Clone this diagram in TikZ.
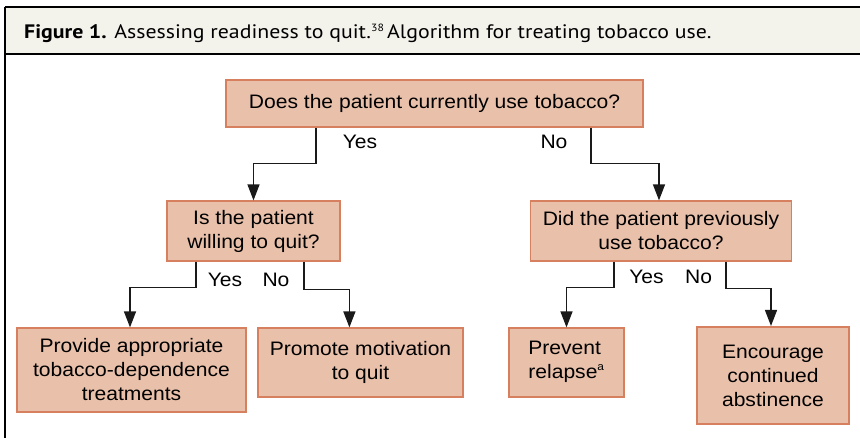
\documentclass[tikz,border=0pt]{standalone}
\usepackage{fontspec}
\setmainfont{Liberation Sans}[FakeStretch=1.08]
\newfontfamily\capfont{PT Sans}[FakeStretch=1.12]
\usetikzlibrary{arrows.meta}
\definecolor{boxfill}{HTML}{E9C0AA}
\definecolor{boxline}{HTML}{D6805F}
\definecolor{capfill}{HTML}{F3F2EB}
\definecolor{linec}{HTML}{1A1A1A}
\tikzset{
  box/.style={draw=boxline, fill=boxfill, line width=1.2pt, inner sep=0pt, align=center,
    font=\fontsize{19.5}{24}\selectfont, text=black},
  lbl/.style={font=\fontsize{19.5}{24}\selectfont, anchor=base, inner sep=0pt},
  arr/.style={draw=linec, line width=1.3pt, -{Triangle[length=16pt, width=12pt]}}
}
\begin{document}
\begin{tikzpicture}[x=1pt, y=-1pt]
\useasboundingbox (0,0) rectangle (860,438);
% frame
\fill[capfill] (5,7) rectangle (860,54);
\draw[black, line width=1.6pt] (860,7) -- (5,7);
\draw[black, line width=1.6pt] (5,54) -- (860,54);
\draw[black, line width=1.2pt] (5,7) -- (5,438);
\node[anchor=base west, inner sep=0pt, font=\capfont\fontsize{19.5}{22}\selectfont] (cap) at (24,38.5)
  {\textbf{Figure 1.} Assessing readiness to quit.\raisebox{6.5pt}{\fontsize{10.5}{10.5}\selectfont 38}\,Algorithm for treating tobacco use.};
% nodes
\node[box, minimum width=417pt, minimum height=47pt] (q1) at (434.5,103.5) {Does the patient currently use tobacco?};
\node[box, minimum width=173pt, minimum height=60pt] (q2) at (253.5,231) {Is the patient\\willing to quit?};
\node[box, minimum width=261pt, minimum height=60pt] (q3) at (661,231) {Did the patient previously\\use tobacco?};
\node[box, minimum width=229pt, minimum height=84pt] (a1) at (131.5,370) {Provide appropriate\\tobacco-dependence\\treatments};
\node[box, minimum width=205pt, minimum height=69pt] (a2) at (360.5,362.5) {Promote motivation\\to quit};
\node[box, minimum width=115pt, minimum height=69pt, align=left, text depth=6pt] (a3) at (566.5,362.5) {Prevent\\relapse\textsuperscript{\fontsize{11}{11}\selectfont a}};
\node[box, line width=2pt, minimum width=152pt, minimum height=97pt] (a4) at (773,375.5) {Encourage\\continued\\abstinence};
% labels
\node[lbl] (y1) at (360,149) {Yes};
\node[lbl] (n1) at (554,149) {No};
\node[lbl] (y2) at (225,286.5) {Yes};
\node[lbl] (n2) at (276,286.5) {No};
\node[lbl] (y3) at (646.5,284) {Yes};
\node[lbl] (n3) at (698.5,284) {No};
% connectors
\draw[arr] ([xshift=-118.5pt]q1.south) -- ++(0,36) -| (q2.north);
\draw[arr] ([xshift=156.5pt]q1.south) -- ++(0,36) -| ([xshift=-2pt]q3.north);
\draw[arr] ([xshift=-57.5pt]q2.south) -- ++(0,26) -| ([xshift=-1.5pt]a1.north);
\draw[arr] ([xshift=50.5pt]q2.south) -- ++(0,28) -| ([xshift=92pt]a2.north west);
\draw[arr] ([xshift=-47pt]q3.south) -- ++(0,26) -| (a3.north);
\draw[arr] ([xshift=65pt]q3.south) -- ++(0,27) -| ([xshift=-2pt]a4.north);
\end{tikzpicture}
\end{document}
